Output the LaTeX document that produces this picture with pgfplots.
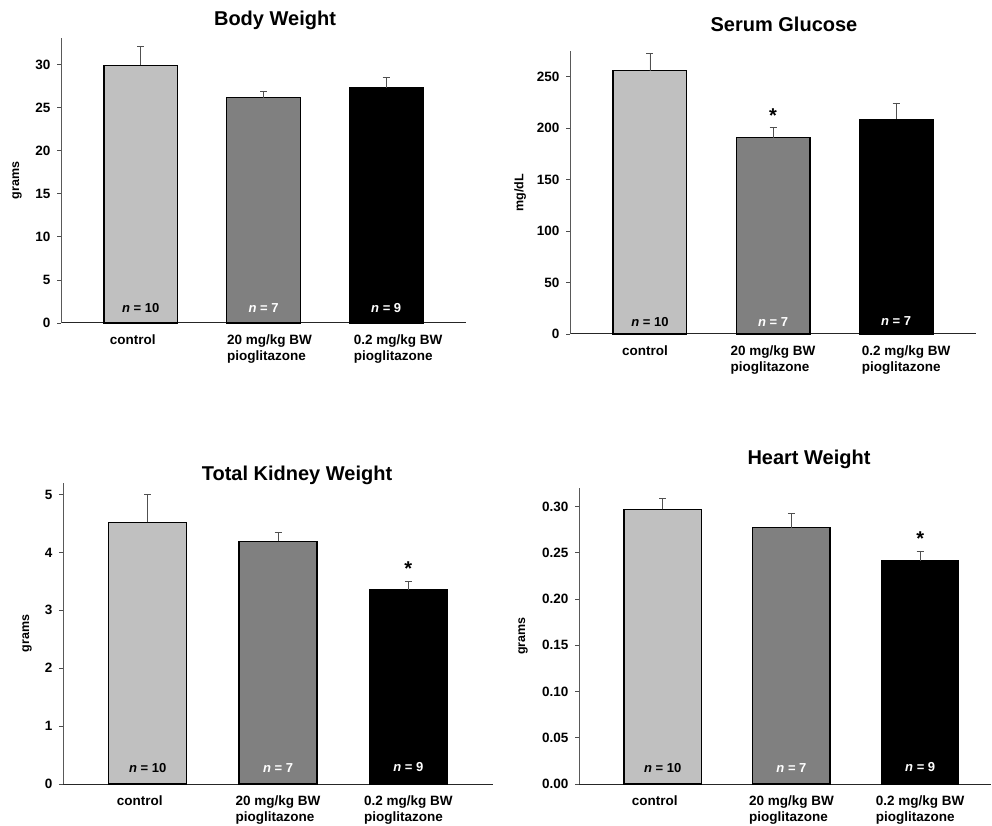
\documentclass[border=0pt]{standalone}
\usepackage{fontspec}
\setmainfont{Liberation Sans}
\usepackage{pgfplots}
\pgfplotsset{compat=1.18}

\definecolor{lgray}{HTML}{C0C0C0}
\definecolor{mgray}{HTML}{808080}
\definecolor{errgray}{HTML}{505050}

\tikzset{
  nlab/.style={font=\bfseries\fontsize{13}{15}\selectfont, anchor=center},
  star/.style={font=\bfseries\fontsize{20}{22}\selectfont, anchor=center},
}

\pgfplotsset{
  panel/.style={
    scale only axis, anchor=south west,
    axis x line*=bottom, axis y line*=left,
    x axis line style={draw=black!85, line width=1pt},
    y axis line style={draw=black!65, line width=0.8pt},
    xmin=-0.65, xmax=2.65, ymin=0,
    xtick={0,1,2},
    xticklabels={\raisebox{-3pt}{\hspace*{-16pt}control}, {20 mg/kg BW\\pioglitazone}, {0.2 mg/kg BW\\pioglitazone}},
    xticklabel style={align=left, anchor=north, yshift=-4pt, font=\bfseries\fontsize{13.5}{16.5}\selectfont},
    xtick style={draw=none},
    ytick style={draw=black!70, line width=0.8pt},
    tick align=outside, major tick length=4pt,
    yticklabel style={font=\bfseries\fontsize{13.5}{15}\selectfont, xshift=-3pt},
    /pgf/number format/assume math mode=true,
    title style={font=\bfseries\fontsize{20}{24}\selectfont, anchor=center},
    ylabel style={font=\bfseries\fontsize{12.5}{15}\selectfont, anchor=center},
    clip=false,
  },
  errs/.style={error bars/.cd, y dir=plus, y explicit,
    error bar style={draw=errgray, line width=0.9pt},
    error mark options={rotate=90, draw=errgray, line width=0.9pt, mark size=3.5pt}},
  barA/.style={ybar, bar width=0.6, bar shift=0pt, fill=lgray, draw=black, line width=1.2pt, errs},
  barB/.style={ybar, bar width=0.6, bar shift=0pt, fill=mgray, draw=black, line width=1.2pt, errs},
  barC/.style={ybar, bar width=0.6, bar shift=0pt, fill=black, draw=black, line width=1.2pt, errs},
}

\begin{document}
\begin{tikzpicture}[x=1pt,y=1pt]
\useasboundingbox (0,0) rectangle (992,825);

% Body Weight
\begin{axis}[panel, at={(61pt,502pt)}, width=405pt, height=285pt,
  ymax=33.1, ytick={0,5,...,30},
  xticklabels={\raisebox{-3pt}{\hspace*{-16pt}control}, {\hspace*{12pt}20 mg/kg BW\\\hspace*{12pt}pioglitazone}, {\hspace*{24pt}0.2 mg/kg BW\\\hspace*{24pt}pioglitazone}},
  title={Body Weight}, title style={at={(axis description cs:0.5,1)}, xshift=11.5pt, yshift=12pt},
  ylabel={grams}, ylabel style={at={(axis description cs:-0.1086,0.5)}}]
\addplot[barA] coordinates {(0,29.95) +- (0,2.15)};
\addplot[barB] coordinates {(1,26.15) +- (0,0.70)};
\addplot[barC] coordinates {(2,27.35) +- (0,1.15)};
\node[nlab, text=black] at (axis cs:0,0) [yshift=15pt] {\textit{n} = 10};
\node[nlab, text=white] at (axis cs:1,0) [yshift=15pt] {\textit{n} = 7};
\node[nlab, text=white] at (axis cs:2,0) [yshift=15pt] {\textit{n} = 9};
\end{axis}

% Serum Glucose
\begin{axis}[panel, at={(570pt,491pt)}, width=406pt, height=283pt,
  ymax=275, ytick={0,50,...,250},
  xticklabels={\raisebox{-3pt}{\hspace*{-10pt}control}, {20 mg/kg BW\\pioglitazone}, {\hspace*{20pt}0.2 mg/kg BW\\\hspace*{20pt}pioglitazone}},
  title={Serum Glucose}, title style={at={(axis description cs:0.5,1)}, xshift=11pt, yshift=21pt},
  ylabel={mg/dL}, ylabel style={at={(axis description cs:-0.123,0.5)}}]
\addplot[barA] coordinates {(0,255.8) +- (0,16.8)};
\addplot[barB] coordinates {(1,190.9) +- (0,9.7)};
\addplot[barC] coordinates {(2,208.7) +- (0,15.8)};
\node[nlab, text=black] at (axis cs:0,0) [yshift=12pt] {\textit{n} = 10};
\node[nlab, text=white] at (axis cs:1,0) [yshift=12pt] {\textit{n} = 7};
\node[nlab, text=white] at (axis cs:2,0) [yshift=13pt] {\textit{n} = 7};
\node[star] at (axis cs:1,212) {*};
\end{axis}

% Total Kidney Weight
\begin{axis}[panel, at={(63pt,41pt)}, width=430pt, height=301pt,
  ymax=5.2, ytick={0,1,...,5},
  title={Total Kidney Weight}, title style={at={(axis description cs:0.5,1)}, xshift=19pt, yshift=2pt},
  ylabel={grams}, ylabel style={at={(axis description cs:-0.0837,0.5)}}]
\addplot[barA] coordinates {(0,4.52) +- (0,0.48)};
\addplot[barB] coordinates {(1,4.19) +- (0,0.15)};
\addplot[barC] coordinates {(2,3.36) +- (0,0.14)};
\node[nlab, text=black] at (axis cs:0,0) [yshift=16pt] {\textit{n} = 10};
\node[nlab, text=white] at (axis cs:1,0) [yshift=16pt] {\textit{n} = 7};
\node[nlab, text=white] at (axis cs:2,0) [yshift=17pt] {\textit{n} = 9};
\node[star] at (axis cs:2,3.72) {*};
\end{axis}

% Heart Weight
\begin{axis}[panel, at={(579pt,41pt)}, width=412pt, height=296pt,
  xmax=2.55, ymax=0.32, ytick={0,0.05,...,0.31},
  yticklabel style={/pgf/number format/.cd, fixed, fixed zerofill, precision=2},
  title={Heart Weight}, title style={at={(axis description cs:0.5,1)}, xshift=24pt, yshift=23pt},
  ylabel={grams}, ylabel style={at={(axis description cs:-0.136,0.5)}}]
\addplot[barA] coordinates {(0,0.297) +- (0,0.0115)};
\addplot[barB] coordinates {(1,0.277) +- (0,0.0158)};
\addplot[barC] coordinates {(2,0.2415) +- (0,0.0104)};
\node[nlab, text=black] at (axis cs:0,0) [yshift=16pt] {\textit{n} = 10};
\node[nlab, text=white] at (axis cs:1,0) [yshift=16pt] {\textit{n} = 7};
\node[nlab, text=white] at (axis cs:2,0) [yshift=17pt] {\textit{n} = 9};
\node[star] at (axis cs:2,0.2650) {*};
\end{axis}
\end{tikzpicture}
\end{document}
